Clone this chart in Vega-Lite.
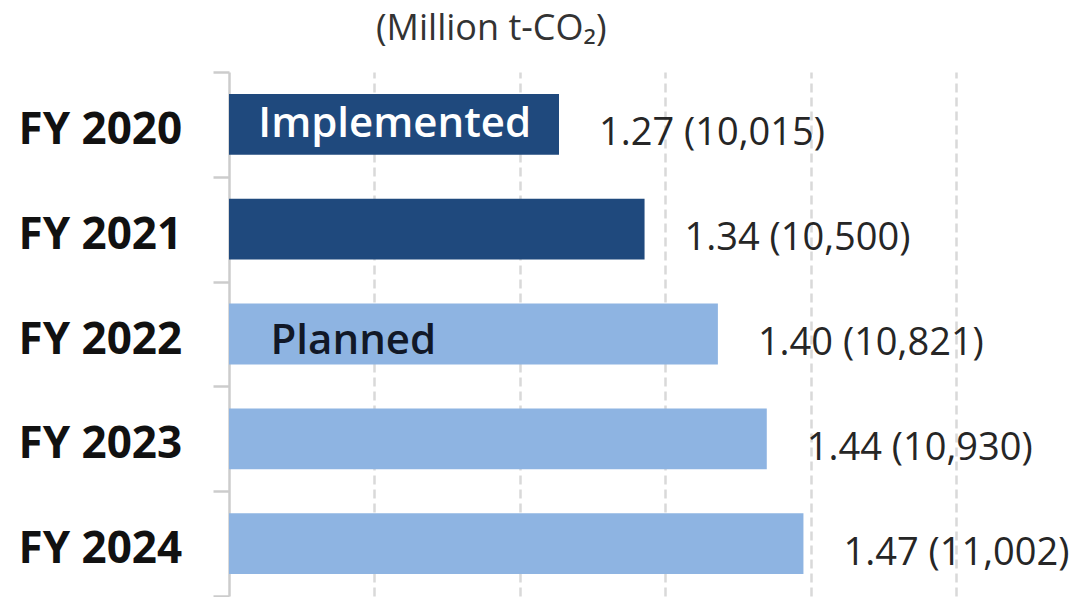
{
  "$schema": "https://vega.github.io/schema/vega-lite/v6.json",
  "autosize": {"type": "none"},
  "width": 847,
  "height": 524,
  "padding": {"left": 229, "top": 72, "right": 0, "bottom": 1},
  "background": "white",
  "config": {"view": {"stroke": null}, "font": "Open Sans"},
  "title": {
    "text": "(Million t-CO₂)",
    "anchor": "start",
    "frame": "group",
    "dx": 147,
    "offset": 2,
    "fontSize": 36,
    "fontWeight": "normal",
    "color": "#333333",
    "font": "Open Sans"
  },
  "data": {
    "values": [
      {"year": "FY 2020", "value": 1.27, "label": "1.27 (10,015)", "status": "Implemented"},
      {"year": "FY 2021", "value": 1.34, "label": "1.34 (10,500)", "status": "Implemented"},
      {"year": "FY 2022", "value": 1.40, "label": "1.40 (10,821)", "status": "Planned"},
      {"year": "FY 2023", "value": 1.44, "label": "1.44 (10,930)", "status": "Planned"},
      {"year": "FY 2024", "value": 1.47, "label": "1.47 (11,002)", "status": "Planned"}
    ]
  },
  "encoding": {
    "y": {
      "field": "year",
      "type": "nominal",
      "sort": null,
      "scale": {"paddingInner": 0, "paddingOuter": 0},
      "axis": {
        "title": null,
        "labelAlign": "left",
        "labelPadding": 195,
        "labelOffset": 6,
        "labelFontSize": 44,
        "labelFontWeight": "bold",
        "labelColor": "#111111",
        "labelFont": "Open Sans",
        "tickBand": "extent",
        "tickSize": 16,
        "tickColor": "#cccccc",
        "tickWidth": 2.5,
        "domainColor": "#cccccc",
        "domainWidth": 2.5,
        "grid": false
      }
    }
  },
  "layer": [
    {
      "mark": {"type": "bar", "height": {"band": 0.58}},
      "encoding": {
        "x": {
          "field": "value",
          "type": "quantitative",
          "scale": {"domain": [1.0, 1.693], "zero": false, "nice": false},
          "axis": {
            "title": null,
            "values": [1.119, 1.238, 1.357, 1.476, 1.595],
            "labels": false,
            "ticks": false,
            "domain": false,
            "grid": true,
            "gridColor": "#d9d9d9",
            "gridWidth": 2.5,
            "gridDash": [9, 5]
          }
        },
        "x2": {"datum": 1.0},
        "color": {
          "field": "status",
          "type": "nominal",
          "scale": {"domain": ["Implemented", "Planned"], "range": ["#1f497d", "#8eb4e2"]},
          "legend": null
        }
      }
    },
    {
      "mark": {"type": "text", "align": "left", "baseline": "middle", "dx": 40, "dy": 10, "fontSize": 38, "color": "#262626", "font": "Open Sans"},
      "encoding": {
        "x": {"field": "value", "type": "quantitative"},
        "text": {"field": "label"}
      }
    },
    {
      "data": {"values": [{"year": "FY 2020", "note": "Implemented"}]},
      "mark": {"type": "text", "align": "left", "baseline": "middle", "dy": 0, "fontSize": 42, "fontWeight": 600, "color": "#ffffff", "font": "Open Sans"},
      "encoding": {
        "x": {"datum": 1.024, "type": "quantitative"},
        "text": {"field": "note"}
      }
    },
    {
      "data": {"values": [{"year": "FY 2022", "note": "Planned"}]},
      "mark": {"type": "text", "align": "left", "baseline": "middle", "dy": 7, "fontSize": 42, "fontWeight": 600, "color": "#111827", "font": "Open Sans"},
      "encoding": {
        "x": {"datum": 1.034, "type": "quantitative"},
        "text": {"field": "note"}
      }
    }
  ]
}
